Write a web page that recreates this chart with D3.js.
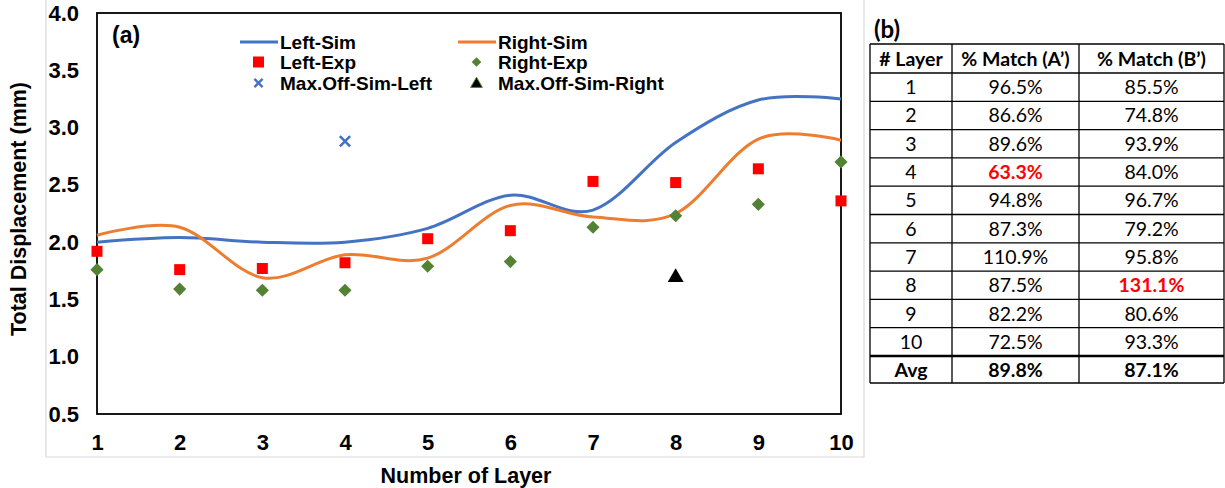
<!DOCTYPE html>
<html><head><meta charset="utf-8">
<script src="https://cdn.jsdelivr.net/npm/d3@7"></script>
<style>body{margin:0;background:#fff}svg{display:block}</style>
</head><body>
<svg id="c" width="1225" height="488"></svg>
<script>
// ---- data ----
const layers   = [1,2,3,4,5,6,7,8,9,10];
const leftSim  = [2.00,2.04,2.00,2.00,2.12,2.41,2.28,2.87,3.24,3.25];
const rightSim = [2.06,2.13,1.69,1.89,1.86,2.32,2.22,2.25,2.90,2.89];
const leftExp  = [1.92,1.76,1.77,1.82,2.03,2.10,2.53,2.52,2.64,2.36];
const rightExp = [1.76,1.59,1.58,1.58,1.79,1.83,2.13,2.23,2.33,2.70];
const maxOffLeftLayer = [4],  maxOffLeftVal = [2.88];
const maxOffRightLayer = [8], maxOffRightVal = [1.70];
const yTicks = [0.5,1.0,1.5,2.0,2.5,3.0,3.5,4.0];
const xTicks = [1,2,3,4,5,6,7,8,9,10];

const tableHeader = ["# Layer","% Match (A\u2019)","% Match (B\u2019)"];
const tableLayer = ["1","2","3","4","5","6","7","8","9","10"];
const matchA = ["96.5%","86.6%","89.6%","63.3%","94.8%","87.3%","110.9%","87.5%","82.2%","72.5%"];
const matchB = ["85.5%","74.8%","93.9%","84.0%","96.7%","79.2%","95.8%","131.1%","80.6%","93.3%"];
const avgRow = ["Avg","89.8%","87.1%"];
const highlightA = ["63.3%"], highlightB = ["131.1%"];

// ---- chart ----
const svg = d3.select("#c");
const F = "'Liberation Sans', Arial, sans-serif";
const x = d3.scaleLinear().domain([1,10]).range([97,841]);
const y = d3.scaleLinear().domain([0.5,4.0]).range([414,13]);

// outer light-gray chart frame
svg.append("path").attr("d","M46,0 V457 H864 V0").attr("fill","none").attr("stroke","#d9d9d9").attr("stroke-width",1.2);

// axes (labels only)
const ya = svg.append("g").attr("transform","translate(97,0)")
  .call(d3.axisLeft(y).tickValues(yTicks).tickFormat(d3.format(".1f")).tickSize(0).tickPadding(18));
const xa = svg.append("g").attr("transform","translate(0,414)")
  .call(d3.axisBottom(x).tickValues(xTicks).tickFormat(d3.format("d")).tickSize(0).tickPadding(20));
[ya,xa].forEach(g=>{g.select(".domain").remove();
  g.selectAll("text").attr("font-family",F).attr("font-weight","bold").attr("font-size",22).attr("fill","#000");});

// plot border
svg.append("rect").attr("x",97).attr("y",13).attr("width",744).attr("height",401)
  .attr("fill","none").attr("stroke","#000").attr("stroke-width",1.8);

// lines
const line = d3.line().x((d,i)=>x(layers[i])).y(d=>y(d)).curve(d3.curveCardinal.tension(0));
svg.append("path").datum(leftSim).attr("d",line).attr("fill","none").attr("stroke","#4472C4").attr("stroke-width",3);
svg.append("path").datum(rightSim).attr("d",line).attr("fill","none").attr("stroke","#ED7D31").attr("stroke-width",3);

// markers
svg.append("g").selectAll("rect").data(leftExp).join("rect")
  .attr("x",(d,i)=>x(layers[i])-5.5).attr("y",d=>y(d)-5.5).attr("width",11).attr("height",11).attr("fill","#FF0000");
const diamond = d3.symbol().type(d3.symbolDiamond2).size(110);
svg.append("g").selectAll("path").data(rightExp).join("path")
  .attr("d",diamond).attr("transform",(d,i)=>`translate(${x(layers[i])},${y(d)})`).attr("fill","#548235");
const cross = d3.symbol().type(d3.symbolTimes).size(70);
svg.append("g").selectAll("path").data(maxOffLeftVal).join("path")
  .attr("d",cross).attr("transform",(d,i)=>`translate(${x(maxOffLeftLayer[i])},${y(d)})`)
  .attr("stroke","#4472C4").attr("stroke-width",2.6).attr("fill","none");
const tri = d3.symbol().type(d3.symbolTriangle).size(110);
svg.append("g").selectAll("path").data(maxOffRightVal).join("path")
  .attr("d",tri).attr("transform",(d,i)=>`translate(${x(maxOffRightLayer[i])},${y(d)+1})`).attr("fill","#000");

// (a)
svg.append("text").attr("x",112).attr("y",43).text("(a)").attr("font-family",F).attr("font-weight","bold").attr("font-size",23);

// legend
const lg = svg.append("g").attr("font-family",F).attr("font-weight","bold").attr("font-size",19);
const legendItems = [
  {col:0,row:0,label:"Left-Sim",type:"line",color:"#4472C4"},
  {col:0,row:1,label:"Left-Exp",type:"sq",color:"#FF0000"},
  {col:0,row:2,label:"Max.Off-Sim-Left",type:"x",color:"#4472C4"},
  {col:1,row:0,label:"Right-Sim",type:"line",color:"#ED7D31"},
  {col:1,row:1,label:"Right-Exp",type:"dia",color:"#548235"},
  {col:1,row:2,label:"Max.Off-Sim-Right",type:"tri",color:"#000"}
];
const colX = [240,458], rowY=[42,62,83];
legendItems.forEach(it=>{
  const x0 = colX[it.col], yy = rowY[it.row], cx = x0+18.5;
  if(it.type==="line") lg.append("line").attr("x1",x0).attr("x2",x0+38).attr("y1",yy).attr("y2",yy).attr("stroke",it.color).attr("stroke-width",3);
  if(it.type==="sq") lg.append("rect").attr("x",cx-5.5).attr("y",yy-5.5).attr("width",11).attr("height",11).attr("fill",it.color);
  if(it.type==="x") lg.append("path").attr("d",d3.symbol().type(d3.symbolTimes).size(45)()).attr("transform",`translate(${cx},${yy})`).attr("stroke",it.color).attr("stroke-width",2.4).attr("fill","none");
  if(it.type==="dia") lg.append("path").attr("d",d3.symbol().type(d3.symbolDiamond2).size(60)()).attr("transform",`translate(${cx},${yy})`).attr("fill",it.color);
  if(it.type==="tri") lg.append("path").attr("d",d3.symbol().type(d3.symbolTriangle).size(60)()).attr("transform",`translate(${cx},${yy+1})`).attr("fill","#000").attr("stroke","#548235").attr("stroke-width",1);
  lg.append("text").attr("x",x0+40).attr("y",yy+7).text(it.label);
});

// axis titles
svg.append("text").attr("transform","translate(26,209) rotate(-90)").attr("text-anchor","middle")
  .attr("font-family",F).attr("font-weight","bold").attr("font-size",21.5).text("Total Displacement (mm)");
svg.append("text").attr("x",466).attr("y",483).attr("text-anchor","middle")
  .attr("font-family",F).attr("font-weight","bold").attr("font-size",21.5).text("Number of Layer");

// ---- table ----
const TF = "Lato, 'Open Sans', sans-serif";
const colEdges = [870,952,1079,1224];
const rowEdges = d3.range(12).map(i=> i===0?44:(i===11?356:73+ (i-1)*28.3));
rowEdges.push(383);
const tg = svg.append("g");
svg.append("text").attr("x",874).attr("y",38).text("(b)").attr("font-family",TF).attr("font-weight","bold").attr("font-size",24);
// grid
rowEdges.forEach((ry,i)=>{
  tg.append("line").attr("x1",870).attr("x2",1224).attr("y1",ry).attr("y2",ry)
    .attr("stroke","#000").attr("stroke-width", i===11?2.5:1.3);
});
colEdges.forEach(cx=>tg.append("line").attr("x1",cx).attr("x2",cx).attr("y1",44).attr("y2",383).attr("stroke","#000").attr("stroke-width",1.3));
const colC = [911,1015.5,1151.5];
const rows = [tableHeader].concat(tableLayer.map((l,i)=>[l,matchA[i],matchB[i]])).concat([avgRow]);
rows.forEach((r,ri)=>{
  const cy = (rowEdges[ri]+rowEdges[ri+1])/2;
  r.forEach((t,ci)=>{
    const hl = (ci===1 && highlightA.includes(t)) || (ci===2 && highlightB.includes(t));
    tg.append("text").attr("x",colC[ci]).attr("y",cy+7).attr("text-anchor","middle")
      .attr("font-family",TF).attr("font-size",19.5)
      .attr("font-weight",(ri===0||ri===rows.length-1||hl)?"bold":"normal")
      .attr("fill",hl?"#FF0000":"#000").text(t);
  });
});
</script>
</body></html>
